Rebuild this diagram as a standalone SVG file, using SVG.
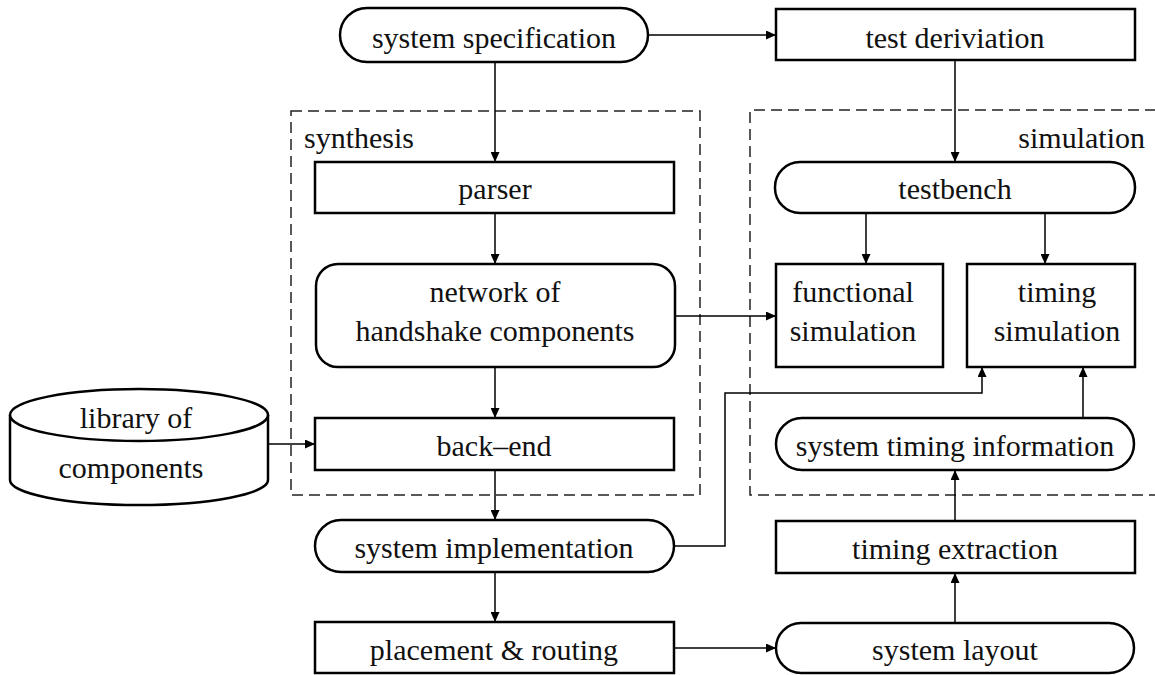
<svg xmlns="http://www.w3.org/2000/svg" width="1155" height="675" viewBox="0 0 1155 675">
<style>
.box{fill:#fff;stroke:#000;stroke-width:2.5}
.dash{fill:none;stroke:#222;stroke-width:1.5;stroke-dasharray:11 6}
.c{fill:none;stroke:#000;stroke-width:1.5}
text{font-family:"Liberation Serif","Times New Roman",serif;font-size:30px;fill:#111}
.m{text-anchor:middle}
</style>
<defs>
<marker id="ah" viewBox="0 0 10 9" refX="10" refY="4.5" markerWidth="10" markerHeight="9" markerUnits="userSpaceOnUse" orient="auto">
<path d="M0,0 L10,4.5 L0,9 z" fill="#000"/>
</marker>
</defs>
<rect width="1155" height="675" fill="#fff"/>
<g id="groups">
<rect class="dash" x="291" y="111" width="409" height="384"/>
<text x="304" y="148">synthesis</text>
<path class="dash" d="M1160,495 H750 V110 H1160"/>
<text x="1145" y="148" text-anchor="end">simulation</text>
</g>
<g id="connectors">
<path class="c" d="M648,35 H776" marker-end="url(#ah)"/>
<path class="c" d="M495,62 V162" marker-end="url(#ah)"/>
<path class="c" d="M495,213 V264" marker-end="url(#ah)"/>
<path class="c" d="M495,367 V418" marker-end="url(#ah)"/>
<path class="c" d="M495,470 V520" marker-end="url(#ah)"/>
<path class="c" d="M495,572 V622" marker-end="url(#ah)"/>
<path class="c" d="M674,648 H776" marker-end="url(#ah)"/>
<path class="c" d="M268,444 H315" marker-end="url(#ah)"/>
<path class="c" d="M675,316 H776" marker-end="url(#ah)"/>
<path class="c" d="M955,61 V162" marker-end="url(#ah)"/>
<path class="c" d="M866,213 V264" marker-end="url(#ah)"/>
<path class="c" d="M1045,213 V264" marker-end="url(#ah)"/>
<path class="c" d="M674,546 H725 V393 H982 V367" marker-end="url(#ah)"/>
<path class="c" d="M1083,418 V367" marker-end="url(#ah)"/>
<path class="c" d="M955,521 V470" marker-end="url(#ah)"/>
<path class="c" d="M955,623 V573" marker-end="url(#ah)"/>
</g>
<g id="system-specification">
<rect class="box" x="340" y="8" width="308" height="54" rx="27" ry="27"/>
<text class="m" x="494" y="48">system specification</text>
</g>
<g id="test-derivation">
<rect class="box" x="776" y="9" width="359" height="51"/>
<text class="m" x="955" y="48">test deriviation</text>
</g>
<g id="parser">
<rect class="box" x="315" y="162" width="359" height="51"/>
<text class="m" x="495" y="199">parser</text>
</g>
<g id="network">
<rect class="box" x="316" y="264" width="359" height="103" rx="22" ry="22"/>
<text class="m" x="495" y="302">network of</text>
<text class="m" x="495" y="341">handshake components</text>
</g>
<g id="back-end">
<rect class="box" x="315" y="418" width="359" height="52"/>
<text class="m" x="494" y="456">back–end</text>
</g>
<g id="library">
<path class="box" d="M10,415 V480 A129,25 0 0 0 268,480 V415"/>
<ellipse class="box" cx="139" cy="415" rx="129" ry="26"/>
<text class="m" x="136" y="428">library of</text>
<text class="m" x="131" y="478">components</text>
</g>
<g id="system-implementation">
<rect class="box" x="315" y="520" width="359" height="52" rx="26" ry="26"/>
<text class="m" x="494" y="558">system implementation</text>
</g>
<g id="placement-routing">
<rect class="box" x="315" y="622" width="359" height="51"/>
<text class="m" x="494" y="660">placement &amp; routing</text>
</g>
<g id="testbench">
<rect class="box" x="775" y="162" width="360" height="51" rx="25" ry="25"/>
<text class="m" x="955" y="199">testbench</text>
</g>
<g id="functional-simulation">
<rect class="box" x="776" y="264" width="167" height="103"/>
<text class="m" x="853" y="302">functional</text>
<text class="m" x="853" y="341">simulation</text>
</g>
<g id="timing-simulation">
<rect class="box" x="967" y="264" width="168" height="103"/>
<text class="m" x="1057" y="302">timing</text>
<text class="m" x="1057" y="341">simulation</text>
</g>
<g id="system-timing-information">
<rect class="box" x="776" y="418" width="358" height="52" rx="26" ry="26"/>
<text class="m" x="955" y="456">system timing information</text>
</g>
<g id="timing-extraction">
<rect class="box" x="776" y="521" width="359" height="52"/>
<text class="m" x="955" y="559">timing extraction</text>
</g>
<g id="system-layout">
<rect class="box" x="776" y="623" width="358" height="50" rx="25" ry="25"/>
<text class="m" x="955" y="660">system layout</text>
</g>
</svg>
